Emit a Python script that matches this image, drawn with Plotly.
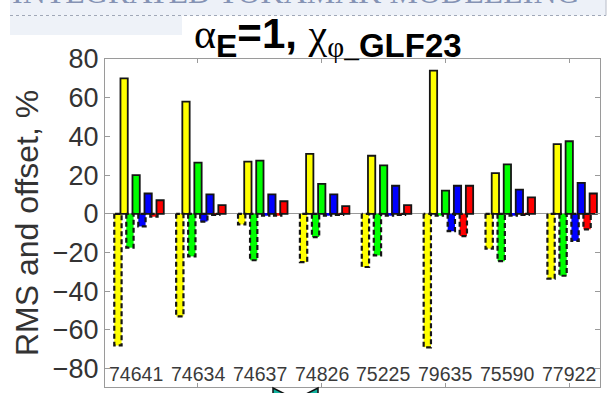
import plotly.graph_objects as go

# Shot numbers and per-channel RMS / offset values (%)
shots = ["74641", "74634", "74637", "74826", "75225", "79635", "75590", "77922"]
series_names = ["Te", "Ti", "ne", "vtor"]
series_colors = ["#ffff00", "#00ff00", "#0000ff", "#ff0000"]

rms_yellow = [70, 58, 27, 31, 30, 74, 21, 36]
rms_green = [20, 26.5, 27.5, 15.5, 25, 12, 25.5, 37.5]
rms_blue = [10.5, 10, 10, 10, 14.5, 14.5, 12.5, 16]
rms_red = [7, 4.5, 6.5, 4, 4.5, 14.5, 8.5, 10.5]

off_yellow = [-68, -53, -5.5, -25, -27.5, -69, -18, -33.5]
off_green = [-17.5, -22, -24, -12, -21.5, -1, -24.5, -32]
off_blue = [-6.5, -4, -1, -1, -1, -9, -1, -14]
off_red = [-1.5, -0.5, -1, -0.5, -0.5, -11.5, -0.5, -8]

y_ticks = [-80, -60, -40, -20, 0, 20, 40, 60, 80]

rms_all = [rms_yellow, rms_green, rms_blue, rms_red]
off_all = [off_yellow, off_green, off_blue, off_red]

W, H = 613, 393
ML, MR, MT, MB = 105, 13, 59, 6
PW, PH = W - ML - MR, H - MT - MB

def px(x):
    return (x - ML) / PW

def py(y):
    return (H - MB - y) / PH

xs = list(range(1, len(shots) + 1))
step = 0.194
bw = 0.118
rms_shift = 0.10

fig = go.Figure()

# offset bars (negative), dashed outlines drawn separately
for k, (vals, col) in enumerate(zip(off_all, series_colors)):
    off = (k - 1.5) * step - bw / 2
    fig.add_trace(go.Bar(
        x=xs, y=vals, width=bw, offset=off, marker_color=col,
        marker_line_width=0, showlegend=False, name=series_names[k] + " offset"))
    ox, oy = [], []
    for xi, v in zip(xs, vals):
        x0 = xi + off
        x1 = x0 + bw
        ox += [x0, x0, x1, x1, x0, None]
        oy += [0, v, v, 0, 0, None]
    fig.add_trace(go.Scatter(
        x=ox, y=oy, mode="lines", line=dict(color="#151515", width=2.2, dash="5px,3px"),
        hoverinfo="skip", showlegend=False))

# RMS bars (positive), solid outlines
for k, (vals, col) in enumerate(zip(rms_all, series_colors)):
    off = (k - 1.5) * step - bw / 2 + rms_shift
    fig.add_trace(go.Bar(
        x=xs, y=vals, width=bw, offset=off, marker_color=col,
        marker_line=dict(color="#151515", width=1.8), showlegend=False,
        name=series_names[k] + " RMS"))

# shot labels written inside the axes box
for xi, s in zip(xs, shots):
    fig.add_annotation(x=xi, y=-83, xref="x", yref="y", text=s, showarrow=False,
                       font=dict(family="Liberation Sans, Arial", size=19.5, color="#3a3a3a"),
                       xanchor="center", yanchor="middle")

shapes = []
# header banner
shapes.append(dict(type="rect", xref="paper", yref="paper", x0=px(10), x1=px(606),
                   y0=py(15.5), y1=py(-2), fillcolor="#edf1f8", line_width=0, layer="below"))
shapes.append(dict(type="rect", xref="paper", yref="paper", x0=px(10), x1=px(182),
                   y0=py(35), y1=py(15.5), fillcolor="#eef2f8", line_width=0, layer="below"))
shapes.append(dict(type="line", xref="paper", yref="paper", x0=px(10), x1=px(606),
                   y0=py(15.5), y1=py(15.5), line=dict(color="#a0a8b8", width=1, dash="dot")))
shapes.append(dict(type="line", xref="paper", yref="paper", x0=px(606), x1=px(606),
                   y0=py(15.5), y1=py(-2), line=dict(color="#b8bcc8", width=1)))
# navigation arrows at the foot of the slide
def tri(pts):
    d = "M " + " L ".join(f"{px(a)},{py(b)}" for a, b in pts) + " Z"
    return dict(type="path", xref="paper", yref="paper", path=d,
                fillcolor="#12b3a0", line=dict(color="#111111", width=1.5))
shapes.append(tri([(273, 388), (295, 399), (273, 410)]))
shapes.append(tri([(318, 388), (296, 399), (318, 410)]))

fig.add_annotation(
    xref="paper", yref="paper", x=px(296), y=py(12.5), xanchor="center", yanchor="bottom",
    text="INTEGRATED TOKAMAK MODELLING", showarrow=False,
    font=dict(family="Liberation Serif, Times New Roman", size=32, color="#8593b4"))

serif = "style=\"font-family:'Liberation Serif',serif\""
title_txt = (f"<span {serif}>α</span>"
             "<sub><span style=\"font-size:32px\"><b>E</b></span></sub>"
             "<b>=1, </b>"
             f"<span {serif}>χ<sub>φ_</sub></span>"
             "<sub><span style=\"font-size:33px\"><b>GLF23</b></span></sub>")
fig.add_annotation(
    xref="paper", yref="paper", x=px(328), y=py(37), xanchor="center", yanchor="middle",
    text=title_txt, showarrow=False,
    font=dict(family="Liberation Sans, Arial", size=42, color="#000000"))

axis_col = "#9a9a9a"
fig.update_layout(
    width=W, height=H, margin=dict(l=ML, r=MR, t=MT, b=MB),
    paper_bgcolor="white", plot_bgcolor="white", barmode="overlay",
    shapes=shapes, showlegend=False,
    xaxis=dict(range=[0.5, 8.5], tickvals=[2, 4, 6, 8], showticklabels=False,
               ticks="inside", ticklen=4, tickcolor=axis_col, mirror="ticks",
               showline=True, linecolor=axis_col, linewidth=1, showgrid=False,
               zeroline=False),
    yaxis=dict(range=[-89.5, 80], tickvals=y_ticks, ticks="inside", ticklen=5,
               tickcolor=axis_col, mirror="ticks", showline=True, linecolor=axis_col,
               linewidth=1, showgrid=False, zeroline=True, zerolinecolor=axis_col,
               zerolinewidth=1,
               tickfont=dict(family="Liberation Sans, Arial", size=27, color="#333333"),
               title=dict(text="RMS and offset, %", standoff=4,
                          font=dict(family="Liberation Sans, Arial", size=32,
                                    color="#333333"))),
)

fig.write_html("out.html")
